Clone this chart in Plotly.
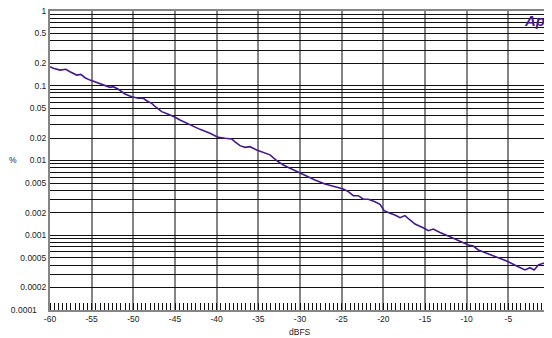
import plotly.graph_objects as go

# THD+N vs level
level_dbfs = [-60.0, -59.6, -58.8, -58.1, -57.6, -56.8, -56.3, -55.8, -55.2, -54.2,
              -53.4, -52.8, -52.4, -51.8, -51.0, -50.2, -49.4, -48.8, -48.4, -47.8,
              -47.2, -46.6, -45.8, -45.1, -44.4, -43.2, -42.0, -40.8, -39.8, -39.0,
              -38.2, -37.8, -37.2, -36.6, -36.0, -35.2, -34.4, -33.6, -32.8, -32.0,
              -31.2, -30.1, -29.4, -28.2, -27.0, -26.2, -25.6, -24.8, -24.2, -23.6,
              -23.0, -22.4, -21.8, -21.0, -20.4, -19.9, -19.2, -18.6, -18.0, -17.4,
              -16.8, -16.2, -15.1, -14.6, -14.0, -13.2, -12.0, -10.8, -9.8, -9.2,
              -8.6, -7.6, -6.4, -5.2, -4.0, -3.0, -2.4, -1.9, -1.4, -0.8, 0.0]
thdn_pct = [0.180, 0.171, 0.162, 0.166, 0.154, 0.139, 0.142, 0.128, 0.119, 0.108,
            0.100, 0.0953, 0.0971, 0.0897, 0.0776, 0.0714, 0.0680, 0.0680, 0.0631, 0.0582,
            0.0508, 0.0450, 0.0415, 0.0385, 0.0348, 0.0299, 0.0261, 0.0231, 0.0204, 0.0198,
            0.0194, 0.0178, 0.0158, 0.0150, 0.0153, 0.0138, 0.0127, 0.0119, 0.00994, 0.00871,
            0.00787, 0.00687, 0.00621, 0.00549, 0.00485, 0.00460, 0.00438, 0.00416, 0.00383, 0.00338,
            0.00338, 0.00303, 0.00303, 0.00281, 0.00259, 0.00213, 0.00197, 0.00187, 0.00172, 0.00183,
            0.00160, 0.00141, 0.00124, 0.00115, 0.00121, 0.00109, 0.000957, 0.000838, 0.000741, 0.000718,
            0.000635, 0.000574, 0.000507, 0.000453, 0.000388, 0.000343, 0.000368, 0.000343, 0.000400, 0.000421,
            0.000429]

x_ticks = [-60, -55, -50, -45, -40, -35, -30, -25, -20, -15, -10, -5, 0]
x_labels = ["-60", "-55", "-50", "-45", "-40", "-35", "-30", "-25", "-20", "-15", "-10", "-5", "+0"]

# grid at 1..9 of every decade, labels only on 1-2-5
labelled = {1: "1", 0.5: "0.5", 0.2: "0.2", 0.1: "0.1", 0.05: "0.05", 0.02: "0.02",
            0.01: "0.01", 0.005: "0.005", 0.002: "0.002", 0.001: "0.001",
            0.0005: "0.0005", 0.0002: "0.0002",
            0.0001: "0.0001\u00a0\u00a0\u00a0\u00a0"}  # bottom label sits further left
decades = [0.0001, 0.001, 0.01, 0.1]
y_ticks = [1.0]
y_labels = ["1"]
for d in decades:
    for m in range(1, 10):
        v = round(d * m, 6)
        y_ticks.append(v)
        y_labels.append(labelled.get(v, ""))

font = "Liberation Sans, Arial, sans-serif"
purple = "#44188f"

fig = go.Figure()
fig.add_trace(go.Scatter(
    x=level_dbfs, y=thdn_pct, mode="lines",
    line=dict(color=purple, width=1.6),
    showlegend=False
))

# page body has an 8px margin, so the figure is 8px smaller than the window
fig.update_layout(
    width=544, height=330,
    margin=dict(l=42, r=2, t=3, b=28),
    paper_bgcolor="white", plot_bgcolor="white",
    font=dict(family=font, size=8.5, color="#222"),
    xaxis=dict(
        range=[-60, 0], tickvals=x_ticks, ticktext=x_labels,
        showgrid=True, gridcolor="#858585", gridwidth=2,
        showline=True, linecolor="#858585", linewidth=2, mirror=True,
        ticks="", zeroline=False, automargin=False, ticklabeloverflow="allow",
        minor=dict(dtick=0.5, tick0=0, ticks="inside", ticklen=7,
                   tickcolor="#111", tickwidth=1, showgrid=False),
    ),
    yaxis=dict(
        type="log", range=[-4, 0], tickvals=y_ticks, ticktext=y_labels,
        showgrid=True, gridcolor="#111", gridwidth=1,
        showline=True, linecolor="#858585", linewidth=2, mirror=True,
        ticks="", zeroline=False, automargin=False, ticklabeloverflow="allow",
    ),
    annotations=[
        dict(text="dBFS", x=0.5, y=-0.072, xref="paper", yref="paper",
             xanchor="center", yanchor="middle",
             showarrow=False, font=dict(size=8.5)),
        dict(text="%", x=-0.074, y=0.502, xref="paper", yref="paper",
             xanchor="center", yanchor="middle",
             showarrow=False, font=dict(size=8.5)),
        dict(text="<b><i>Ap</i></b>", x=0.968, y=0.968, xref="paper", yref="paper",
             xanchor="center", yanchor="middle",
             showarrow=False, font=dict(size=15, color=purple)),
    ],
)

fig.write_html("out.html")
